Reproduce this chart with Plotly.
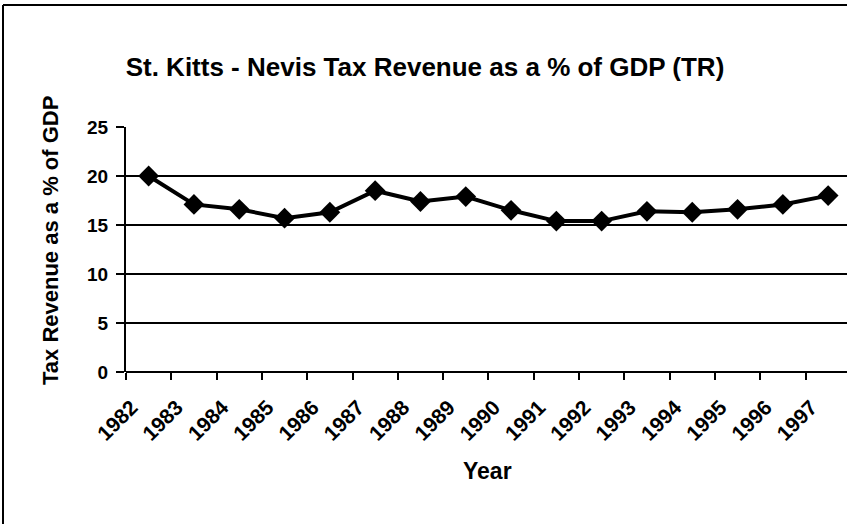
import plotly.graph_objects as go

years = ["1982", "1983", "1984", "1985", "1986", "1987", "1988", "1989",
         "1990", "1991", "1992", "1993", "1994", "1995", "1996", "1997"]
tax_revenue = [20.0, 17.1, 16.6, 15.7, 16.3, 18.5, 17.4, 17.9,
               16.5, 15.4, 15.4, 16.4, 16.3, 16.6, 17.1, 18.0]
y_ticks = [0, 5, 10, 15, 20, 25]

W, H = 847, 524
L, R, T, B = 126, 0, 127, 152
pw = W - L - R
ph = H - T - B

def px_x(p):
    return (p - L) / pw

def px_y(p):
    return (H - B - p) / ph

FONT = "Liberation Sans"

fig = go.Figure()
fig.add_trace(go.Scatter(
    x=years, y=tax_revenue, mode="lines+markers",
    line=dict(color="black", width=4),
    marker=dict(symbol="diamond", size=16, color="black"),
    showlegend=False,
))

fig.update_layout(
    width=W, height=H,
    margin=dict(l=L, r=R, t=T, b=B),
    paper_bgcolor="white", plot_bgcolor="white",
    font=dict(family=FONT, color="black"),
    title=dict(
        text="St. Kitts - Nevis Tax Revenue as a % of GDP (TR)",
        x=425 / W, xanchor="center", xref="container",
        y=1 - 67 / H, yanchor="middle", yref="container",
        font=dict(family=FONT, size=26, weight="bold", color="black"),
    ),
    xaxis=dict(
        type="category", range=[-0.5, -0.5 + pw / 45.3],
        tickson="boundaries", ticks="outside", ticklen=7, tickwidth=2,
        tickcolor="black", tickangle=-45, showgrid=False,
        showline=False, zeroline=False,
        tickfont=dict(family=FONT, size=21, weight="bold", color="black"),
        ticklabelshift=-17, ticklabelstandoff=18,
    ),
    yaxis=dict(
        range=[0, 25], tickvals=y_ticks, ticks="outside", ticklen=8,
        tickwidth=2, tickcolor="black",
        showgrid=True, gridcolor="black", gridwidth=2,
        showline=True, linecolor="black", linewidth=2,
        zeroline=True, zerolinecolor="black", zerolinewidth=2,
        tickfont=dict(family=FONT, size=19, weight="bold", color="black"),
        ticklabelstandoff=4,
    ),
    annotations=[
        dict(text="Tax Revenue as a % of GDP", textangle=-90,
             x=px_x(50), y=px_y(241), xref="paper", yref="paper",
             xanchor="center", yanchor="middle", showarrow=False,
             font=dict(family=FONT, size=22, weight="bold", color="black")),
        dict(text="Year",
             x=px_x(487), y=px_y(471), xref="paper", yref="paper",
             xanchor="center", yanchor="middle", showarrow=False,
             font=dict(family=FONT, size=23, weight="bold", color="black")),
    ],
    shapes=[
        dict(type="line", xref="paper", yref="paper",
             x0=px_x(3), x1=px_x(3), y0=px_y(5), y1=px_y(524),
             line=dict(color="black", width=2)),
        dict(type="line", xref="paper", yref="paper",
             x0=px_x(3), x1=px_x(847), y0=px_y(5), y1=px_y(5),
             line=dict(color="black", width=2)),
    ],
)

fig.write_html("out.html",
               config={"displayModeBar": False},
               post_script="document.body.style.margin='0';"
                           "document.body.style.overflow='hidden';")
